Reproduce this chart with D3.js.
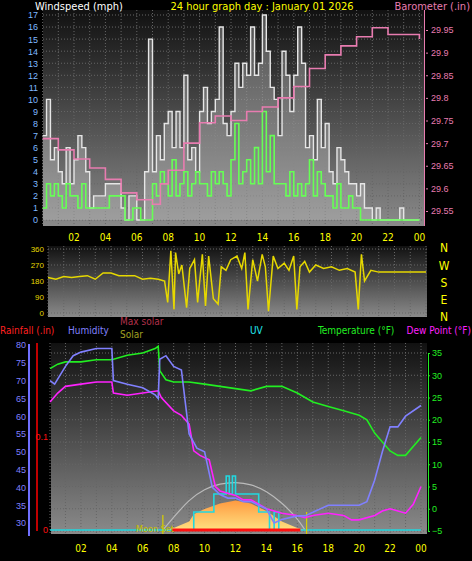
<!DOCTYPE html>
<html><head><meta charset="utf-8">
<script src="https://cdn.jsdelivr.net/npm/d3@7"></script>
<style>body{margin:0;background:#000}svg{display:block;font-family:"DejaVu Sans Condensed","DejaVu Sans",sans-serif}</style>
</head><body>
<svg id="c" width="472" height="561"></svg>
<script>
// ---- data ----
var hourTicks = ['02','04','06','08','10','12','14','16','18','20','22','00'];
// 15-minute samples 00:00 .. 24:00
var windGust = [7,10,5,6, 4,3,6,3, 5,7,6,4, 1,2,2,2, 3,3,3,3, 1,0,2,2, 0,0,4,15,
  4,7,5,8, 9,6,9,6, 12,5,6,4, 9,11,8,9, 10,16,8,7, 9,13,11,13, 12,16,12,13,
  17,14,11,10, 7,14,12,9, 12,16,13,6, 7,5,10,6, 8,4,3,6, 5,4,3,3, 2,3,1,1,
  0,1,0,0, 0,0,0,1, 0,0,0,0, 0];
var windAvg = [1,3,2,3, 2,1,3,2, 2,1,3,1, 1,1,1,1, 1,2,2,2, 2,0,0,1, 1,0,0,0,
  3,2,4,3, 2,5,2,3, 4,2,3,4, 3,3,2,4, 3,4,3,2, 5,8,3,4, 5,3,6,3, 9,4,7,3,
  3,3,2,4, 2,3,2,3, 5,2,4,3, 2,2,1,3, 1,1,2,1, 1,0,0,0, 0,0,0,0, 0,0,0,0,
  0,0,0,0, 0];
var baroHours = [0,1,2,3,4,5,6,7,7.5,8,9,10,11,12,13,14,15,16,17,18,19,20,21,22,23,24];
var baro = [29.71,29.685,29.665,29.645,29.62,29.59,29.575,29.565,29.61,29.64,29.70,29.745,29.76,29.75,29.77,29.78,29.80,29.825,29.865,29.895,29.915,29.935,29.955,29.94,29.94,29.93];
var dirHours = [0,0.5,1,1.5,2,2.5,3,3.5,4,4.5,5,5.5,6,6.5,7,7.4,7.6,7.8,8,8.1,8.3,8.5,8.8,9,9.3,9.5,9.8,10,10.2,10.5,10.8,11,11.3,11.6,12,12.3,12.5,12.7,13,13.3,13.6,13.8,14,14.3,14.6,15,15.3,15.6,15.8,16,16.3,16.6,17,17.5,18,18.5,19,19.5,19.7,19.9,20.1,20.5,21,22,23,24];
var windDir = [200,190,205,200,205,210,190,225,225,210,210,210,190,195,190,180,60,350,20,340,220,270,30,250,300,60,330,40,320,80,50,260,240,300,320,250,340,20,300,180,330,260,10,320,250,280,240,320,20,260,290,230,270,250,260,240,250,230,20,330,180,240,230,230,230,230];
var humHours = [0,0.3,1,1.5,2,3,4,4.1,5,6,6.8,7,7.1,7.5,8,8.5,9,9.5,10,10.5,11,11.5,12,12.5,13,13.5,14,14.5,15,16,16.5,17,18,19,20,20.5,21,21.5,22,22.5,23,24];
var humidity = [70,69,74,77,78,79,79,70,69,68,66,65,76,77,74,73,55,51,50,40,38,37,37,36,36,35,34,30,31,32,32,33,35,35,35,36,42,50,57,57,60,63];
var tempHours = [0,0.5,1,2,3,4,5,6,6.8,7,7.1,7.5,8,9,10,11,12,13,14,15,16,17,18,19,20,20.5,21,22,22.5,23,24];
var temperature = [31.5,32.5,33,33,33.5,33.5,34.5,35,36,36.5,31,29,28.5,28.5,28,27.5,27,26.5,27.5,27.5,26,24,23,22,21,20,17,13,12,12,16];
var dewHours = [0,0.5,1,2,3,4,4.1,5,6,7,7.2,8,8.5,9,9.3,9.7,10.3,10.7,11,12,12.5,13,13.5,14,15,16,16.5,17,18,19,19.5,20,21,21.5,22,23,23.5,24];
var dewPoint = [24,26,27.5,28,28.5,28.5,26,25.5,26,26.5,25,22,21,19,13,12,11,5,4,3,2,2,1,0,-1,-1.5,-2,-1.5,-1,-1.5,-2.5,-2.5,-1.5,-0.5,0,-1,1,5];
var uvHours = [0,9.3,10.6,11.4,11.6,11.8,12,13.5,14.2,14.5,14.8,24];
var uv = [0,1,2,3,2,3,2,1,0,1,0,0];
var solarHours = [7.5,8,9,9.3,10,11,12,13,14,15,16,16.5];
var solar = [0,20,80,150,200,250,280,250,180,80,20,0];
var maxSolarHours = [7.3,8,9,10,11,12,13,14,15,16,16.5];
var maxSolar = [0,120,290,390,440,455,435,370,260,110,0];

var svg = d3.select('#c');
var defs = svg.append('defs');
var g = defs.append('linearGradient').attr('id','bg').attr('x1',0).attr('y1',0).attr('x2',0).attr('y2',1);
g.append('stop').attr('offset','0%').attr('stop-color','#111');
g.append('stop').attr('offset','100%').attr('stop-color','#8a8a8a');

function panel(x0, x1, y0, y1, x, yTicks) {
    svg.append('rect').attr('x',x0).attr('y',y0).attr('width',x1-x0).attr('height',y1-y0).attr('fill','url(#bg)');
    var grid = svg.append('g').attr('stroke','#666').attr('stroke-dasharray','1,2').attr('stroke-width',1);
    d3.range(0,25,1).forEach(function(h){
        grid.append('line').attr('x1',x(h)).attr('x2',x(h)).attr('y1',y0).attr('y2',y1);
    });
    yTicks.forEach(function(v){
        grid.append('line').attr('x1',x0).attr('x2',x1).attr('y1',v).attr('y2',v);
    });
}
function hourLabels(x, y) {
    svg.append('g').selectAll('text').data(hourTicks).enter().append('text')
        .attr('x',function(d,i){return x((i+1)*2);}).attr('y',y)
        .attr('text-anchor','middle').attr('fill','#ffff00').attr('font-size',10).text(function(d){return d;});
}
function label(txt, x, y, col, anchor, size) {
    svg.append('text').attr('x',x).attr('y',y).attr('fill',col).attr('font-size',size||11)
        .attr('text-anchor',anchor||'start').text(txt);
}
var t15 = function(d,i){return i/4;};

// ---- top panel: wind + barometer ----
var x1 = d3.scaleLinear().domain([0,24]).range([42.6,419.4]);
var yW = d3.scaleLinear().domain([0,17]).range([220,15]);
var yB = d3.scaleLinear().domain([29.55,29.95]).range([211,30]);
panel(43,424,10,226,x1,d3.range(0,18).map(yW));
svg.append('path').datum(windGust)
    .attr('d',d3.area().x(function(d,i){return x1(t15(d,i));}).y0(yW(0)).y1(function(d){return yW(d);}).curve(d3.curveStepAfter))
    .attr('fill','rgba(200,200,200,0.35)');
svg.append('path').datum(windGust)
    .attr('d',d3.line().x(function(d,i){return x1(t15(d,i));}).y(function(d){return yW(d);}).curve(d3.curveStepAfter))
    .attr('fill','none').attr('stroke','#e6e6e6').attr('stroke-width',1.4);
svg.append('path').datum(windAvg)
    .attr('d',d3.line().x(function(d,i){return x1(t15(d,i));}).y(function(d){return yW(d);}).curve(d3.curveStepAfter))
    .attr('fill','none').attr('stroke','#66ff55').attr('stroke-width',1.6);
svg.append('path').datum(baro)
    .attr('d',d3.line().x(function(d,i){return x1(baroHours[i]);}).y(function(d){return yB(d);}).curve(d3.curveStepAfter))
    .attr('fill','none').attr('stroke','#e87cb0').attr('stroke-width',1.6);
svg.append('line').attr('x1',424.5).attr('x2',424.5).attr('y1',10).attr('y2',226).attr('stroke','#e87cb0');
svg.append('g').attr('transform','translate(40,0)')
    .call(d3.axisLeft(yW).ticks(17).tickSize(0).tickPadding(2))
    .call(function(a){a.select('.domain').remove();a.selectAll('text').attr('fill','#7fb8ff').attr('font-size',9);});
svg.append('g').attr('transform','translate(426,0)')
    .call(d3.axisRight(yB).tickValues([29.55,29.6,29.65,29.7,29.75,29.8,29.85,29.9,29.95]).tickFormat(function(d){return +d.toFixed(2);}).tickSize(2).tickPadding(3))
    .call(function(a){a.select('.domain').remove();a.selectAll('line').attr('stroke','#e87cb0');a.selectAll('text').attr('fill','#e87cb0').attr('font-size',9);});
hourLabels(x1,241);
label('Windspeed (mph)',35,10,'#fff','start',11);
label('24 hour graph day : January 01 2026',262,10,'#ffff00','middle',11);
label('Barometer (.in)',470,10,'#e87cb0','end',11);

// ---- wind direction ----
var x2 = d3.scaleLinear().domain([0,24]).range([48,426]);
var yD = d3.scaleLinear().domain([0,360]).range([313,249]);
panel(48,427,246,317,x2,[0,90,180,270,360].map(yD));
svg.append('path').datum(windDir)
    .attr('d',d3.line().x(function(d,i){return x2(dirHours[i]);}).y(function(d){return yD(d);}))
    .attr('fill','none').attr('stroke','#e6d800').attr('stroke-width',1.5);
svg.append('g').attr('transform','translate(45,0)')
    .call(d3.axisLeft(yD).tickValues([0,90,180,270,360]).tickSize(0).tickPadding(1))
    .call(function(a){a.select('.domain').remove();a.selectAll('text').attr('fill','#e6d800').attr('font-size',8);});
['N','W','S','E','N'].forEach(function(c,i){label(c,444,[252,270,287,304,321][i],'#ffff00','middle',12);});

// ---- bottom panel ----
var x3 = d3.scaleLinear().domain([0,24]).range([50,421]);
var yH = d3.scaleLinear().domain([30,80]).range([523,345]);
var yT = d3.scaleLinear().domain([-5,35]).range([531,353]);
var yR = d3.scaleLinear().domain([0,0.2]).range([530,344]);
var yUV = d3.scaleLinear().domain([0,10]).range([530,350]);
var yS = d3.scaleLinear().domain([0,1800]).range([530,340]);
panel(51,427,343,534,x3,d3.range(-5,36,5).map(yT));
svg.append('path').datum(maxSolar)
    .attr('d',d3.line().x(function(d,i){return x3(maxSolarHours[i]);}).y(function(d){return yS(d);}).curve(d3.curveBasis))
    .attr('fill','none').attr('stroke','#bbb').attr('stroke-width',1.2);
var sg = defs.append('linearGradient').attr('id','sol').attr('x1',0).attr('y1',0).attr('x2',0).attr('y2',1);
sg.append('stop').attr('offset','0%').attr('stop-color','#ff9a40');
sg.append('stop').attr('offset','100%').attr('stop-color','#ffe080');
svg.append('path').datum(solar)
    .attr('d',d3.area().x(function(d,i){return x3(solarHours[i]);}).y0(yS(0)).y1(function(d){return yS(d);}))
    .attr('fill','url(#sol)');
svg.append('path').datum(uv)
    .attr('d',d3.line().x(function(d,i){return x3(uvHours[i]);}).y(function(d){return yUV(d);}).curve(d3.curveStepAfter))
    .attr('fill','none').attr('stroke','#22d8e0').attr('stroke-width',1.6);
svg.append('line').attr('x1',x3(7.9)).attr('x2',x3(16.2)).attr('y1',yR(0)).attr('y2',yR(0)).attr('stroke','#ff1010').attr('stroke-width',3);
[[7.3,515],[16.6,512]].forEach(function(m){
    svg.append('line').attr('x1',x3(m[0])).attr('x2',x3(m[0])).attr('y1',m[1]).attr('y2',534).attr('stroke','#d8d000').attr('stroke-width',1.2);
});
label('Moon Set',136,532,'#c8c000','start',9);
function series(h, v, y, col) {
    svg.append('path').datum(v)
        .attr('d',d3.line().x(function(d,i){return x3(h[i]);}).y(function(d){return y(d);}))
        .attr('fill','none').attr('stroke',col).attr('stroke-width',1.6);
}
series(tempHours,temperature,yT,'#22ee22');
series(dewHours,dewPoint,yT,'#ff22ff');
series(humHours,humidity,yH,'#8080ff');
svg.append('line').attr('x1',29).attr('x2',29).attr('y1',344).attr('y2',536).attr('stroke','#7070ff').attr('stroke-width',2);
svg.append('line').attr('x1',37).attr('x2',37).attr('y1',343).attr('y2',531).attr('stroke','#ff0000').attr('stroke-width',1.5);
svg.append('g').attr('transform','translate(27,0)')
    .call(d3.axisLeft(yH).tickValues(d3.range(30,81,5)).tickSize(0).tickPadding(1))
    .call(function(a){a.select('.domain').remove();a.selectAll('text').attr('fill','#8080ff').attr('font-size',9);});
svg.append('g').attr('transform','translate(50,0)')
    .call(d3.axisLeft(yR).tickValues([0,0.1]).tickFormat(function(d){return d;}).tickSize(0).tickPadding(2))
    .call(function(a){a.select('.domain').remove();a.selectAll('text').attr('fill','#ff1010').attr('font-size',9);});
svg.append('g').attr('transform','translate(428,0)')
    .call(d3.axisRight(yT).tickValues(d3.range(-5,36,5)).tickSize(2).tickPadding(2))
    .call(function(a){a.select('.domain').attr('stroke','#22ee22');a.selectAll('line').attr('stroke','#22ee22');a.selectAll('text').attr('fill','#22ee22').attr('font-size',9);});
hourLabels(x3,552);
label('Rainfall (.in)',0,334,'#ff2020','start',10);
label('Humidity',68,334,'#8080ff','start',10);
label('Max solar',120,325,'#b0304a','start',10);
label('Solar',120,338,'#a0a020','start',10);
label('UV',250,334,'#22e8f0','start',10);
label('Temperature (°F)',318,334,'#22ee22','start',10);
label('Dew Point (°F)',471,334,'#ff22ff','end',10);
</script>
</body></html>
